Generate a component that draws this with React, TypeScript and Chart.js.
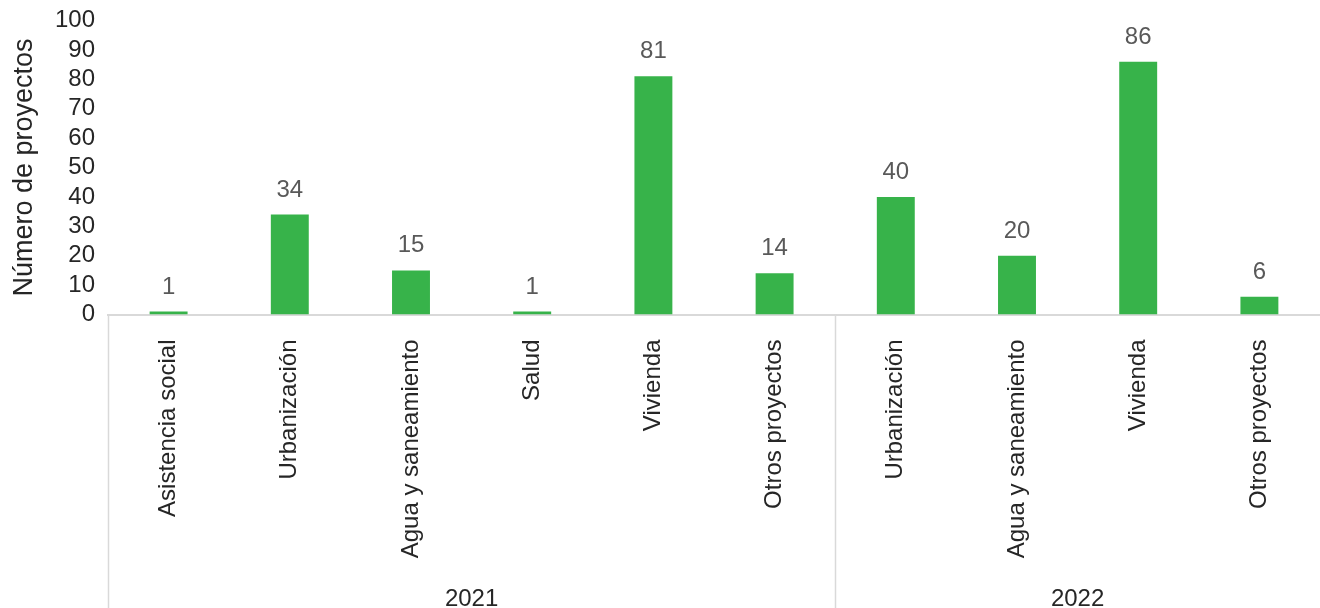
import React, { useEffect, useRef } from "react";
import { Chart, registerables } from "chart.js";

Chart.register(...registerables);

const categories = [
  "Asistencia social",
  "Urbanización",
  "Agua y saneamiento",
  "Salud",
  "Vivienda",
  "Otros proyectos",
  "Urbanización",
  "Agua y saneamiento",
  "Vivienda",
  "Otros proyectos",
];
const values = [1, 34, 15, 1, 81, 14, 40, 20, 86, 6];
const groupLabels = ["2021", "2022"];
const groupSizes = [6, 4];
const yTicks = [0, 10, 20, 30, 40, 50, 60, 70, 80, 90, 100];

const FONT = '"Liberation Sans", Arial, Helvetica, sans-serif';
const BAR_COLOR = "#37b34a";
const TEXT_COLOR = "#262626";
const LABEL_COLOR = "#595959";
const LINE_COLOR = "#d9d9d9";

const valueLabelPlugin = {
  id: "valueLabels",
  afterDatasetsDraw(chart: any) {
    const ctx = chart.ctx;
    const meta = chart.getDatasetMeta(0);
    ctx.save();
    ctx.font = `24px ${FONT}`;
    ctx.fillStyle = LABEL_COLOR;
    ctx.textAlign = "center";
    ctx.textBaseline = "alphabetic";
    meta.data.forEach((bar: any, i: number) => {
      ctx.fillText(String(values[i]), bar.x, bar.y - 18);
    });
    ctx.restore();
  },
};

const groupPlugin = {
  id: "groups",
  afterDraw(chart: any) {
    const ctx = chart.ctx;
    const x = chart.scales.x;
    const bottom = chart.height;
    const axisY = chart.chartArea.bottom;
    ctx.save();
    ctx.strokeStyle = LINE_COLOR;
    ctx.lineWidth = 1.5;
    let start = 0;
    const boundaries: number[] = [];
    groupSizes.forEach((size, g) => {
      const leftPx = start === 0 ? chart.chartArea.left : (x.getPixelForValue(start - 1) + x.getPixelForValue(start)) / 2;
      const endIdx = start + size - 1;
      const rightPx =
        endIdx === categories.length - 1
          ? chart.chartArea.right
          : (x.getPixelForValue(endIdx) + x.getPixelForValue(endIdx + 1)) / 2;
      boundaries.push(leftPx);
      ctx.font = `24px ${FONT}`;
      ctx.fillStyle = TEXT_COLOR;
      ctx.textAlign = "center";
      ctx.textBaseline = "alphabetic";
      ctx.fillText(groupLabels[g], (leftPx + rightPx) / 2, bottom - 2);
      start += size;
    });
    boundaries.forEach((bx) => {
      const px = Math.round(bx) + 0.5;
      ctx.beginPath();
      ctx.moveTo(px, axisY);
      ctx.lineTo(px, bottom);
      ctx.stroke();
    });
    ctx.restore();
  },
};

export default function App() {
  const canvasRef = useRef<HTMLCanvasElement | null>(null);

  useEffect(() => {
    const canvas = canvasRef.current;
    if (!canvas) return;
    const chart = new Chart(canvas, {
      type: "bar",
      data: {
        labels: categories,
        datasets: [
          {
            data: values,
            backgroundColor: BAR_COLOR,
            borderWidth: 0,
            barPercentage: 0.313,
            categoryPercentage: 1,
          },
        ],
      },
      options: {
        responsive: false,
        animation: false,
        devicePixelRatio: 1,
        layout: { padding: { top: 20.5, right: 0, bottom: 0, left: 0 } },
        plugins: {
          legend: { display: false },
          tooltip: { enabled: false },
          title: { display: false },
        },
        scales: {
          x: {
            grid: { display: false, drawTicks: false, tickLength: 0 },
            border: { display: true, color: LINE_COLOR, width: 2 },
            ticks: {
              autoSkip: false,
              maxRotation: 90,
              minRotation: 90,
              padding: 25,
              color: TEXT_COLOR,
              font: { family: FONT, size: 24 },
            },
            afterFit: (scale: any) => {
              scale.height = 608 - 314.5;
              scale.paddingLeft = 0;
              scale.paddingRight = 0;
            },
          },
          y: {
            min: 0,
            max: 100,
            afterBuildTicks: (scale: any) => {
              scale.ticks = yTicks.map((v) => ({ value: v }));
            },
            grid: { display: false, drawTicks: false, tickLength: 0 },
            border: { display: false },
            ticks: {
              autoSkip: false,
              padding: 13,
              color: TEXT_COLOR,
              font: { family: FONT, size: 24 },
            },
            title: {
              display: true,
              text: "Número de proyectos",
              color: TEXT_COLOR,
              font: { family: FONT, size: 27 },
              padding: { top: 8, bottom: 0 },
            },
            afterFit: (scale: any) => {
              scale.width = 108;
              scale.paddingTop = 0;
              scale.paddingBottom = 0;
            },
          },
        },
      },
      plugins: [valueLabelPlugin, groupPlugin],
    });
    return () => chart.destroy();
  }, []);

  return (
    <div style={{ position: "absolute", left: 0, top: 0, width: 1320, height: 608, background: "#fff" }}>
      <canvas ref={canvasRef} width={1320} height={608} style={{ display: "block" }} />
    </div>
  );
}
